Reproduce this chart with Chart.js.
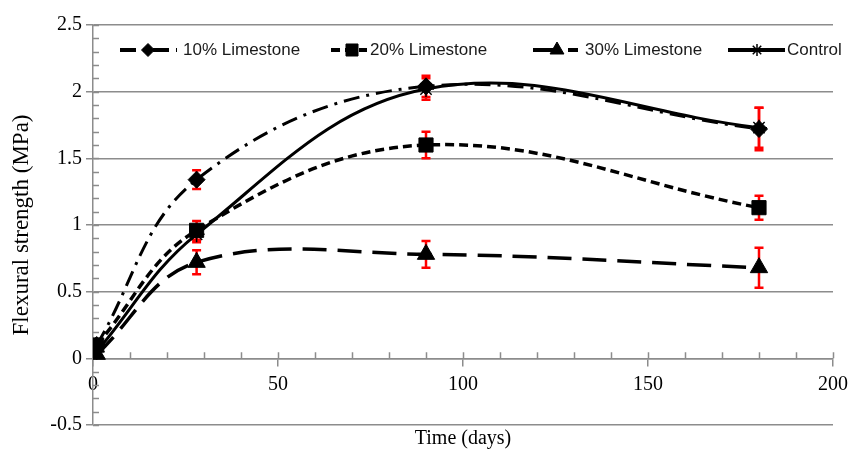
<!DOCTYPE html>
<html>
<head>
<meta charset="utf-8">
<title>Flexural strength vs time</title>
<script src="https://cdn.jsdelivr.net/npm/chart.js"></script>
<style>
  html, body { margin: 0; padding: 0; background: #fff; }
  #wrap { width: 861px; height: 454px; }
</style>
</head>
<body>
<div id="wrap"><canvas id="flexChart"></canvas></div>
<script>
// values
const days = [1, 28, 90, 180];
const lime10 = [0.10, 1.34, 2.04, 1.72];
const lime20 = [0.10, 0.96, 1.60, 1.13];
const lime30 = [0.03, 0.72, 0.78, 0.68];
const control = [0.05, 0.93, 2.02, 1.73];
const err10 = [0, 0.07, 0.08, 0.16];
const err20 = [0, 0.07, 0.10, 0.09];
const err30 = [0, 0.09, 0.10, 0.15];
const errControl = [0, 0.06, 0.08, 0.15];
const seriesNames = ["10% Limestone", "20% Limestone", "30% Limestone", "Control"];
const xTicks = [0, 50, 100, 150, 200];
const yTicks = [-0.5, 0, 0.5, 1, 1.5, 2, 2.5];

const serif = { family: "'Liberation Serif', 'Times New Roman', serif", size: 20 };
const gray = '#8c8c8c';

function points(vals) {
  return days.map((d, i) => ({ x: d, y: vals[i] }));
}

function series(name, vals, errs, dash, style, radius, extra) {
  return Object.assign({
    label: name,
    data: points(vals),
    errors: errs,
    xAxisID: 'x',
    yAxisID: 'y',
    borderColor: '#000',
    backgroundColor: '#000',
    borderWidth: 3,
    borderDash: dash,
    tension: 0.38,
    fill: false,
    pointStyle: style,
    pointRadius: radius,
    pointHoverRadius: radius,
    pointBackgroundColor: '#000',
    pointBorderColor: '#000',
    pointBorderWidth: 1
  }, extra || {});
}

const datasets = [
  series(seriesNames[0], lime10, err10, [16, 7, 3, 7], 'rectRot', 8.5),
  series(seriesNames[1], lime20, err20, [9, 5], 'rect', 10, { borderWidth: 3.5 }),
  series(seriesNames[2], lime30, err30, [24, 11], 'triangle', 10, { borderWidth: 3.5 }),
  series(seriesNames[3], control, errControl, [], 'star', 8, { pointBorderWidth: 1.5 })
];

// red error bars, under the markers
const errorBars = {
  id: 'errorBars',
  beforeDatasetsDraw(chart) {
    const { ctx, scales: { x, y } } = chart;
    ctx.save();
    ctx.strokeStyle = '#ff0000';
    ctx.lineWidth = 2.5;
    chart.data.datasets.forEach(ds => {
      ds.errors.forEach((e, i) => {
        if (!e) return;
        const px = x.getPixelForValue(ds.data[i].x);
        const top = y.getPixelForValue(ds.data[i].y + e);
        const bot = y.getPixelForValue(ds.data[i].y - e);
        ctx.beginPath();
        ctx.moveTo(px, top); ctx.lineTo(px, bot);
        ctx.moveTo(px - 4.5, top); ctx.lineTo(px + 4.5, top);
        ctx.moveTo(px - 4.5, bot); ctx.lineTo(px + 4.5, bot);
        ctx.stroke();
      });
    });
    ctx.restore();
  }
};

// small inside ticks like the Excel minor tick marks
const minorTicks = {
  id: 'minorTicks',
  beforeDatasetsDraw(chart) {
    const { ctx, scales: { x, y } } = chart;
    const left = y.right;
    const axisY = y.getPixelForValue(0);
    ctx.save();
    ctx.strokeStyle = gray;
    ctx.lineWidth = 1.5;
    ctx.beginPath();
    for (let i = -5; i <= 25; i++) {
      const py = Math.round(y.getPixelForValue(i / 10)) + 0.5;
      ctx.moveTo(left, py); ctx.lineTo(left + 6, py);
    }
    for (let i = 1; i <= 20; i++) {
      const px = Math.round(x.getPixelForValue(i * 10)) + 0.5;
      ctx.moveTo(px, axisY); ctx.lineTo(px, axisY - 6);
    }
    ctx.stroke();
    ctx.restore();
  }
};

// legend drawn as line + marker + text, laid out like the original
const legendSlots = [
  { from: 120, to: 177, mark: 148, text: 183, r: 6.5 },
  { from: 331, to: 367, mark: 352, text: 370, r: 8.5 },
  { from: 533, to: 578, mark: 557, text: 585, r: 8 },
  { from: 728, to: 785, mark: 757, text: 787, r: 6 }
];
const lineLegend = {
  id: 'lineLegend',
  afterDraw(chart) {
    const { ctx } = chart;
    const ly = 50;
    ctx.save();
    chart.data.datasets.forEach((ds, i) => {
      const s = legendSlots[i];
      ctx.strokeStyle = '#000';
      ctx.lineWidth = 4;
      ctx.setLineDash(ds.borderDash);
      ctx.beginPath();
      ctx.moveTo(s.from, ly); ctx.lineTo(s.to, ly);
      ctx.stroke();
      ctx.setLineDash([]);
      ctx.fillStyle = '#000';
      ctx.strokeStyle = '#000';
      ctx.lineWidth = ds.pointBorderWidth;
      Chart.helpers.drawPoint(ctx, { pointStyle: ds.pointStyle, radius: s.r, rotation: 0, borderWidth: ds.pointBorderWidth }, s.mark, ly);
      ctx.fillStyle = '#1a1a1a';
      ctx.font = "17px 'Liberation Sans', Arial, sans-serif";
      ctx.textBaseline = 'middle';
      ctx.textAlign = 'left';
      ctx.fillText(ds.label, s.text, ly);
    });
    ctx.restore();
  }
};

new Chart(document.getElementById('flexChart'), {
  type: 'line',
  data: { datasets },
  plugins: [minorTicks, errorBars, lineLegend],
  options: {
    responsive: true,
    maintainAspectRatio: false,
    animation: false,
    layout: { padding: { left: 0, right: 28, top: 25, bottom: 0 } },
    plugins: { legend: { display: false }, tooltip: { enabled: false } },
    scales: {
      x: {
        type: 'linear',
        position: { y: 0 },
        min: 0, max: 200,
        afterBuildTicks: s => { s.ticks = xTicks.map(v => ({ value: v })); },
        grid: { drawOnChartArea: false, color: gray, lineWidth: 1.5, tickLength: 7 },
        border: { color: gray, width: 1.5 },
        ticks: { font: serif, color: '#000', padding: 7, maxRotation: 0, callback: v => String(v) }
      },
      xTitle: {
        type: 'linear',
        axis: 'x',
        position: 'bottom',
        min: 0, max: 200,
        grid: { display: false },
        border: { display: false },
        ticks: { display: false },
        afterFit: s => { s.height = 29; },
        title: { display: true, text: 'Time (days)', font: serif, color: '#000', padding: { top: 0, bottom: 3 } }
      },
      y: {
        min: -0.5, max: 2.5,
        afterBuildTicks: s => { s.ticks = yTicks.map(v => ({ value: v })); },
        afterFit: s => { s.width = 93; },
        grid: { color: gray, lineWidth: 1.5, tickLength: 7 },
        border: { color: gray, width: 1.5 },
        ticks: { font: serif, color: '#000', padding: 4, callback: v => String(v) },
        title: {
          display: true, text: 'Flexural strength (MPa)', color: '#000',
          font: { family: serif.family, size: 23 }, padding: { top: 8, bottom: 0 }
        }
      }
    }
  }
});
</script>
</body>
</html>
